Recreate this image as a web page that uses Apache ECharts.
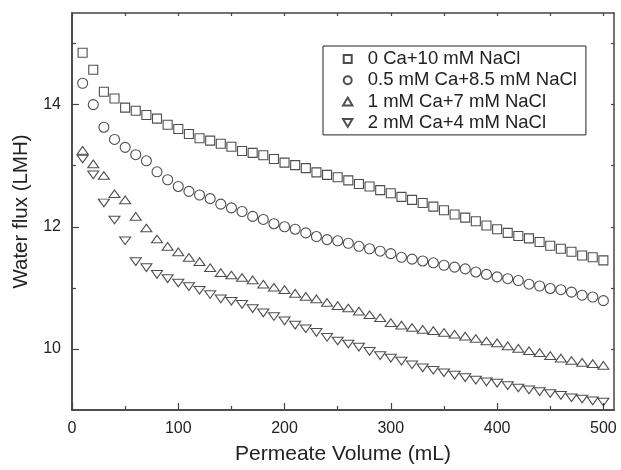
<!DOCTYPE html>
<html lang="en">
<head>
    <meta charset="UTF-8">
    <title>Water flux</title>
    <script type="text/javascript" src="https://cdn.jsdelivr.net/npm/echarts@6/dist/echarts.min.js"></script>
</head>
<body style="margin:0;background:#fff">
<div id="main" style="width: 621px;height: 470px"></div>

<script>
    var volume = [10, 20, 30, 40, 50, 60, 70, 80, 90, 100,
        110, 120, 130, 140, 150, 160, 170, 180, 190, 200,
        210, 220, 230, 240, 250, 260, 270, 280, 290, 300,
        310, 320, 330, 340, 350, 360, 370, 380, 390, 400,
        410, 420, 430, 440, 450, 460, 470, 480, 490, 500];

    var ca0 = [14.85, 14.57, 14.21, 14.10, 13.95, 13.90, 13.83, 13.77, 13.67, 13.60,
        13.52, 13.45, 13.41, 13.36, 13.31, 13.24, 13.21, 13.17, 13.11, 13.05,
        13.01, 12.96, 12.89, 12.85, 12.81, 12.76, 12.70, 12.66, 12.60, 12.55,
        12.49, 12.44, 12.39, 12.33, 12.27, 12.20, 12.15, 12.09, 12.02, 11.96,
        11.90, 11.85, 11.81, 11.75, 11.69, 11.64, 11.59, 11.53, 11.50, 11.45];

    var ca05 = [14.35, 14.00, 13.63, 13.43, 13.30, 13.18, 13.08, 12.90, 12.77, 12.66,
        12.58, 12.52, 12.46, 12.37, 12.31, 12.25, 12.17, 12.12, 12.05, 12.00,
        11.96, 11.90, 11.84, 11.79, 11.77, 11.73, 11.68, 11.64, 11.60, 11.56,
        11.50, 11.47, 11.44, 11.41, 11.37, 11.34, 11.31, 11.26, 11.22, 11.18,
        11.15, 11.12, 11.06, 11.03, 10.99, 10.97, 10.93, 10.88, 10.85, 10.79];

    var ca1 = [13.25, 13.03, 12.84, 12.54, 12.44, 12.17, 11.98, 11.80, 11.68, 11.59,
        11.50, 11.43, 11.33, 11.25, 11.21, 11.17, 11.13, 11.06, 11.01, 10.97,
        10.91, 10.86, 10.82, 10.76, 10.71, 10.67, 10.62, 10.56, 10.51, 10.43,
        10.39, 10.35, 10.32, 10.30, 10.27, 10.24, 10.21, 10.17, 10.13, 10.10,
        10.05, 10.01, 9.97, 9.94, 9.89, 9.85, 9.81, 9.78, 9.76, 9.73];

    var ca2 = [13.11, 12.85, 12.39, 12.11, 11.77, 11.43, 11.33, 11.22, 11.15, 11.08,
        11.02, 10.96, 10.89, 10.82, 10.78, 10.73, 10.66, 10.59, 10.53, 10.46,
        10.39, 10.33, 10.27, 10.19, 10.13, 10.08, 10.03, 9.96, 9.89, 9.85,
        9.80, 9.74, 9.69, 9.65, 9.61, 9.57, 9.53, 9.49, 9.46, 9.44,
        9.40, 9.36, 9.33, 9.30, 9.27, 9.24, 9.20, 9.18, 9.15, 9.13];

    var names = ['0 Ca+10 mM NaCl', '0.5 mM Ca+8.5 mM NaCl', '1 mM Ca+7 mM NaCl', '2 mM Ca+4 mM NaCl'];
    var xMajor = [0, 100, 200, 300, 400, 500];
    var xMinor = [50, 150, 250, 350, 450];
    var yMajor = [10, 12, 14];
    var yMinor = [11, 13, 15];

    var ink = '#222';
    var font = 'Liberation Sans, Arial, sans-serif';
    var square = 'path://M0,0L1,0L1,1L0,1Z';
    var triUp = 'path://M1,0L2,1.7L0,1.7Z';
    var triDown = 'path://M0,0L2,0L1,1.7Z';

    function pairs(ys) {
        return volume.map(function (v, i) { return [v, ys[i]]; });
    }

    function makeSeries(name, ys, symbol, size) {
        return {
            name: name,
            type: 'scatter',
            symbol: symbol,
            symbolSize: size,
            symbolKeepAspect: true,
            itemStyle: {color: 'rgba(0,0,0,0)', borderColor: ink, borderWidth: 1.1},
            emphasis: {disabled: true},
            data: pairs(ys)
        };
    }

    // bottom+left carry the labels, top+right are only frame with inner ticks
    function xAx(pos, ticks, len, frame) {
        return {
            type: 'value', position: pos, min: 0, max: 510,
            axisLine: {show: pos === 'bottom' || !!frame, onZero: false, lineStyle: {color: '#444', width: 1.5}},
            axisTick: {show: true, inside: true, length: len, customValues: ticks, lineStyle: {color: '#444', width: 1.2}},
            axisLabel: {show: false},
            splitLine: {show: false}
        };
    }

    function yAx(pos, ticks, len, frame) {
        return {
            type: 'value', position: pos, min: 9, max: 15.5,
            axisLine: {show: pos === 'left' || !!frame, onZero: false, lineStyle: {color: '#444', width: 1.5}},
            axisTick: {show: true, inside: true, length: len, customValues: ticks, lineStyle: {color: '#444', width: 1.2}},
            axisLabel: {show: false},
            splitLine: {show: false}
        };
    }

    var chartDom = document.getElementById('main');
    var myChart = echarts.init(chartDom, null, {renderer: 'canvas'});
    var option;

    var xMain = xAx('bottom', xMajor, 7);
    xMain.axisLabel = {show: true, customValues: xMajor, fontSize: 16, color: ink, fontFamily: font, margin: 11};
    xMain.name = 'Permeate Volume (mL)';
    xMain.nameLocation = 'middle';
    xMain.nameGap = 34;
    xMain.nameTextStyle = {fontSize: 21, color: ink, fontFamily: font};

    var yMain = yAx('left', yMajor, 7);
    yMain.axisLabel = {show: true, customValues: yMajor, fontSize: 16, color: ink, fontFamily: font, margin: 11};
    yMain.name = 'Water flux (LMH)';
    yMain.nameLocation = 'middle';
    yMain.nameGap = 38;
    yMain.nameTextStyle = {fontSize: 20.5, color: ink, fontFamily: font};

    option = {
        backgroundColor: '#fff',
        animation: false,
        grid: {left: 72, top: 13, right: 7, bottom: 56},
        legend: {
            data: names,
            orient: 'vertical',
            left: 323,
            top: 46,
            padding: [3, 9, 2, 19],
            borderColor: ink,
            borderWidth: 1,
            itemWidth: 30,
            itemHeight: 8,
            itemGap: 1.3,
            textStyle: {fontSize: 18.5, lineHeight: 20, color: ink, fontFamily: font},
            selectedMode: false
        },
        xAxis: [
            xMain,
            xAx('bottom', xMinor, 4),
            xAx('top', xMajor.concat(xMinor), 3, true)
        ],
        yAxis: [
            yMain,
            yAx('left', yMinor, 4),
            yAx('right', yMajor.concat(yMinor), 3, true)
        ],
        series: [
            makeSeries(names[0], ca0, square, 9),
            makeSeries(names[1], ca05, 'circle', 10),
            makeSeries(names[2], ca1, triUp, [11, 9]),
            makeSeries(names[3], ca2, triDown, [11, 9])
        ]
    };

    myChart.setOption(option);
</script>
</body>
</html>
